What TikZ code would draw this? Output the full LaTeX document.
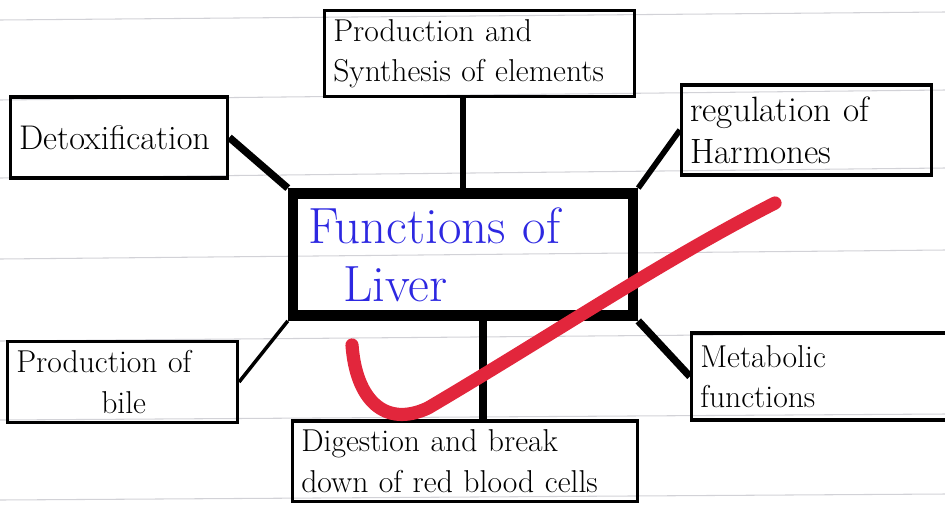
\documentclass[tikz,border=0pt]{standalone}
\usepackage{xcolor}
\definecolor{inkblue}{RGB}{45,40,225}
\definecolor{tickred}{RGB}{226,38,60}
\definecolor{ruleline}{RGB}{210,210,215}
\usetikzlibrary{positioning,calc}
\tikzset{
  fbox/.style={draw, line width=1.8pt, inner sep=5pt, align=left,
               font=\fontsize{18}{23}\selectfont},
  hubbox/.style={draw, line width=6pt, inner sep=8pt, align=left,
                 font=\fontsize{29}{33}\selectfont, text=inkblue},
  thinlink/.style={line width=2pt},
  midlink/.style={line width=3.2pt},
  thicklink/.style={line width=4.2pt},
  tickmark/.style={draw=tickred, line width=7.5pt, line cap=round, line join=round},
  paperline/.style={draw=ruleline, line width=0.6pt},
}

\begin{document}
\begin{tikzpicture}[x=0.02cm, y=-0.02cm]
\useasboundingbox (0,0) rectangle (945,504);

% Ruled paper
\foreach \ya/\yb in {20/12, 100/90, 178/168, 259/250, 341/333, 420/414, 500/494}
  \draw[paperline] (0,\ya) -- (945,\yb);

% Central concept
\node[hubbox, minimum width=6.8cm, minimum height=2.3cm, text width=6.2cm]
      (liver) at (463,254.5) {Functions of\\\hspace{0.7cm}Liver};

% Surrounding functions
\node[fbox, minimum width=6.1cm, minimum height=1.66cm, text width=5.85cm]
      (prod) at (479.5,53.5) {Production and\\Synthesis of elements};
\node[fbox, minimum width=4.24cm, minimum height=1.62cm, text width=4cm,
      font=\fontsize{19.5}{23}\selectfont]
      (detox) at (119,137.5) {Detoxification};
\node[fbox, minimum width=4.94cm, minimum height=1.8cm, text width=4.65cm,
      font=\fontsize{20}{24}\selectfont]
      (regul) at (806.5,130) {regulation of\\Harmones};
\node[fbox, minimum width=4.5cm, minimum height=1.6cm, text width=4.25cm]
      (bile) at (122.5,382) {Production of\\\hspace{1.7cm}bile};
\node[fbox, minimum width=5.04cm, minimum height=1.74cm, text width=4.75cm]
      (metab) at (819,376.5) {Metabolic\\functions};
\node[fbox, minimum width=6.84cm, minimum height=1.56cm, text width=6.55cm]
      (digest) at (465,461) {Digestion and break\\down of red blood cells};

% Links to the centre
\draw[midlink] (liver.north |- prod.south) -- (liver.north);
\draw[thicklink] (detox.east) -- (liver.north west);
\draw[midlink] (regul.west) -- (liver.north east);
\draw[thinlink] (liver.south west) -- (bile.east);
\draw[thicklink] (liver.south east) -- (metab.west);
\draw[thicklink] ([xshift=0.4cm]liver.south) -- ([xshift=0.4cm]liver.south |- digest.north);

% Teacher's tick
\draw[tickmark] (352,345) .. controls (356,400) and (385,428) .. (428,408)
      .. controls (560,330) and (660,262) .. (775,203);

\end{tikzpicture}
\end{document}
